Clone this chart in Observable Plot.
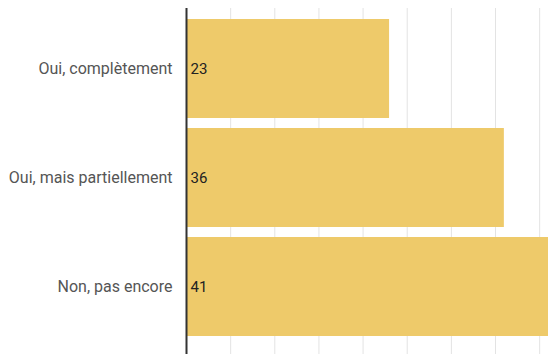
<!DOCTYPE html>
<html><head><meta charset="utf-8">
<script src="https://cdn.jsdelivr.net/npm/d3@7"></script>
<script src="https://cdn.jsdelivr.net/npm/@observablehq/plot@0.6"></script>
<style>body{margin:0;background:#fff;}</style>
</head><body><div id="chart"></div>
<script>
const categories = ["Oui, complètement", "Oui, mais partiellement", "Non, pas encore"];
const values = [23, 36, 41];
const gridTicks = [5, 10, 15, 20, 25, 30, 35, 40];

const data = categories.map((c, i) => ({category: c, value: values[i]}));

const chart = Plot.plot({
  width: 549, height: 354,
  marginLeft: 186, marginRight: 1, marginTop: 8, marginBottom: 0,
  style: {fontFamily: "Roboto, sans-serif", background: "#fff"},
  x: {domain: [0, 41], axis: null},
  y: {domain: categories, axis: null, range: [14, 342], paddingInner: 0.09, paddingOuter: 0.036},
  marks: [
    Plot.ruleX(gridTicks, {stroke: "#e3e3e3", strokeWidth: 1}),
    Plot.barX(data, {y: "category", x: "value", fill: "#eeca6a"}),
    Plot.ruleX([0], {stroke: "#333", strokeWidth: 2}),
    Plot.text(data, {y: "category", x: 0, text: d => String(d.value), textAnchor: "start", dx: 4, fontSize: 15, fill: "#222"}),
    Plot.text(data, {y: "category", x: 0, text: "category", textAnchor: "end", dx: -14, fontSize: 16, fill: "#555"})
  ]
});
document.getElementById("chart").appendChild(chart);
</script>
</body></html>
